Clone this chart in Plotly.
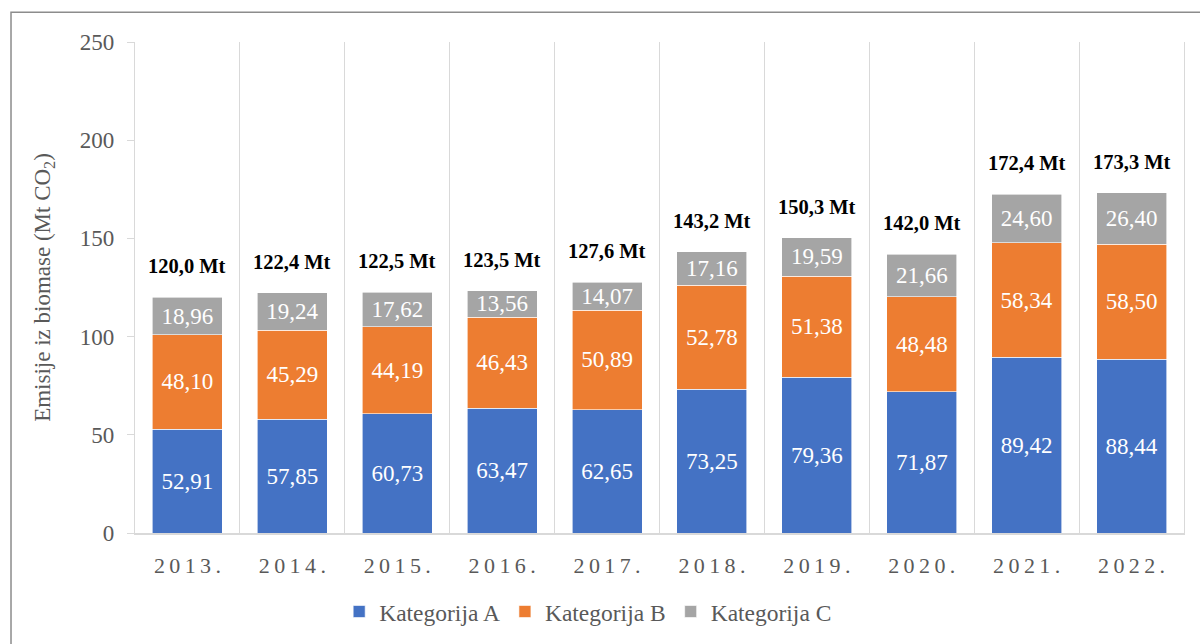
import plotly.graph_objects as go

years = ["2013.", "2014.", "2015.", "2016.", "2017.", "2018.", "2019.", "2020.", "2021.", "2022."]
kat_a = [52.91, 57.85, 60.73, 63.47, 62.65, 73.25, 79.36, 71.87, 89.42, 88.44]
kat_b = [48.10, 45.29, 44.19, 46.43, 50.89, 52.78, 51.38, 48.48, 58.34, 58.50]
kat_c = [18.96, 19.24, 17.62, 13.56, 14.07, 17.16, 19.59, 21.66, 24.60, 26.40]
series_names = ["Kategorija A", "Kategorija B", "Kategorija C"]
colors = ["#4472C4", "#ED7D31", "#A5A5A5"]

FONT = "Liberation Serif, Times New Roman, serif"
GRAY_TXT = "#595959"
GRID = "#d9d9d9"

# letter-spaced category labels (thin spaces between characters)
cats = ["\u2009".join(list(y)) for y in years]

totals = [a + b + c for a, b, c in zip(kat_a, kat_b, kat_c)]

fig = go.Figure()
for name, vals, col in zip(series_names, [kat_a, kat_b, kat_c], colors):
    fig.add_trace(go.Bar(
        x=cats, y=vals, name=name,
        marker=dict(color=col, line=dict(color="white", width=0.6)),
        texttemplate="%{y:.2f}", textposition="inside",
        insidetextanchor="middle", textangle=0, constraintext="none",
        textfont=dict(family=FONT, size=23, color="white"),
        hoverinfo="skip",
    ))

for c, tot in zip(cats, totals):
    fig.add_annotation(
        x=c, y=tot, xref="x", yref="y",
        text="<b>" + f"{tot:.1f}".replace(".", ",") + " Mt</b>",
        showarrow=False, yanchor="middle", yshift=31,
        font=dict(family=FONT, size=20.5, color="black"),
    )

# outer chart border
fig.add_shape(type="rect", xref="paper", yref="paper",
              x0=-0.1182, x1=1.03, y0=-0.3, y1=1.0605,
              line=dict(color="#8c8c8c", width=1.5), fillcolor="rgba(0,0,0,0)",
              layer="below")

fig.update_layout(
    barmode="stack",
    bargap=0.333,
    separators=",.",
    width=1200, height=644,
    margin=dict(l=135, r=16, t=42, b=110),
    paper_bgcolor="white", plot_bgcolor="white",
    font=dict(family=FONT, color=GRAY_TXT, size=22),
    showlegend=True,
    legend=dict(orientation="h", x=0.432, xanchor="center", y=-0.158, yanchor="middle",
                font=dict(family=FONT, size=23.5, color=GRAY_TXT), traceorder="normal",
                itemclick=False),
    xaxis=dict(
        type="category", tickson="boundaries", showgrid=True, gridcolor=GRID, gridwidth=1.3,
        ticks="",
        tickfont=dict(family=FONT, size=22, color=GRAY_TXT),
        showline=True, linecolor=GRID, linewidth=1.5, ticklabelstandoff=12,
        automargin=False,
    ),
    yaxis=dict(
        range=[0, 250], dtick=50, showgrid=False, zeroline=False,
        ticks="outside", ticklen=7, tickcolor=GRID, tickwidth=1.3,
        showline=True, linecolor=GRID, linewidth=1.3, mirror=True,
        tickfont=dict(family=FONT, size=23, color=GRAY_TXT), ticklabelstandoff=8,
        title=dict(text="Emisije iz biomase (Mt CO<sub>2</sub>)", standoff=22,
                   font=dict(family=FONT, size=23, color=GRAY_TXT)),
        automargin=False,
    ),
)

fig.write_html("out.html")
